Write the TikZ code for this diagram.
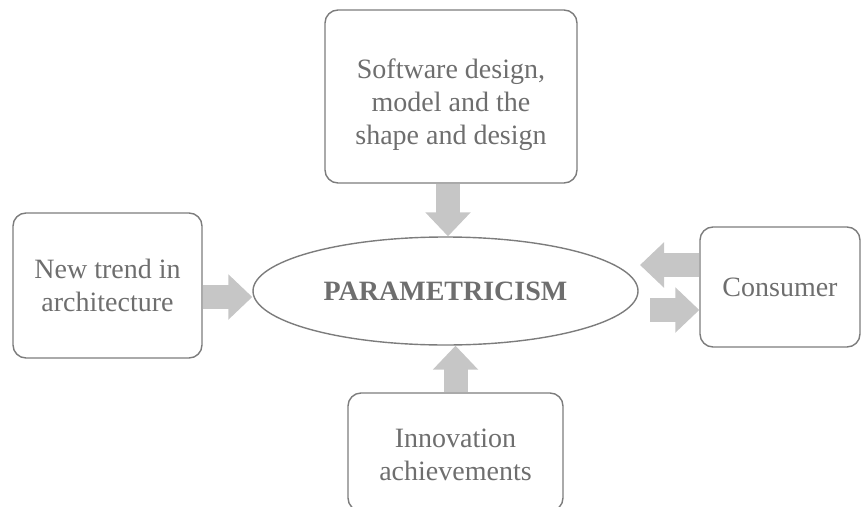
\documentclass[tikz,border=0pt]{standalone}
\usepackage{fontspec}
\setmainfont{Liberation Serif}
\usetikzlibrary{positioning}
\usetikzlibrary{shapes.geometric,arrows.meta}
\definecolor{boxline}{HTML}{7C7C7C}
\definecolor{boxtext}{HTML}{6E6E6E}
\definecolor{arrowfill}{HTML}{C6C6C6}
\newcommand{\lowered}[2]{\raisebox{#1}[\height][\depth]{\begin{tabular}{@{}c@{}}#2\end{tabular}}}

\begin{document}
\begin{tikzpicture}
  [x=1pt,y=-1pt,
  box/.style={rectangle,rounded corners=13pt,draw=boxline,line width=1.4pt,text=boxtext,align=center,font=\fontsize{28}{33}\selectfont},
  oval/.style={ellipse,draw=boxline,line width=1.4pt,text=boxtext,inner sep=0pt,font=\fontsize{28}{32}\selectfont\bfseries},
  fat/.style={draw=arrowfill,line width=24pt,-{Triangle[width=44pt,length=24pt]}}]
  \useasboundingbox (0,0) rectangle (862,506);

  \node[box,minimum width=252pt,minimum height=173pt] (soft) at (451,96.5) {\lowered{-8pt}{Software design,\\model and the\\shape and design}};
  \node[box,minimum width=189pt,minimum height=145pt] (trend) at (107.5,285.5) {New trend in\\architecture};
  \node[box,minimum width=160pt,minimum height=120pt] (cons) at (780,287) {Consumer};
  \node[oval,minimum width=385pt,minimum height=108pt] (para) at (445.5,291) {PARAMETRICISM};
  \node[box,minimum width=215pt,minimum height=118pt] (innov) at (455.5,452) {\lowered{-5pt}{Innovation\\achievements}};

  \coordinate (cin) at (640,265);
  \coordinate (cout) at (650,310);

  \draw[fat] (soft.south -| 448,0) -- (para.north -| 448,0);
  \draw[fat] (trend.east |- 0,297) -- (para.west |- 0,297);
  \draw[fat] (cons.west |- cin) -- (cin);
  \draw[fat] (cout) -- (cons.west |- cout);
  \draw[fat] (innov.north) -- (innov.north |- para.south);

\end{tikzpicture}
\end{document}
